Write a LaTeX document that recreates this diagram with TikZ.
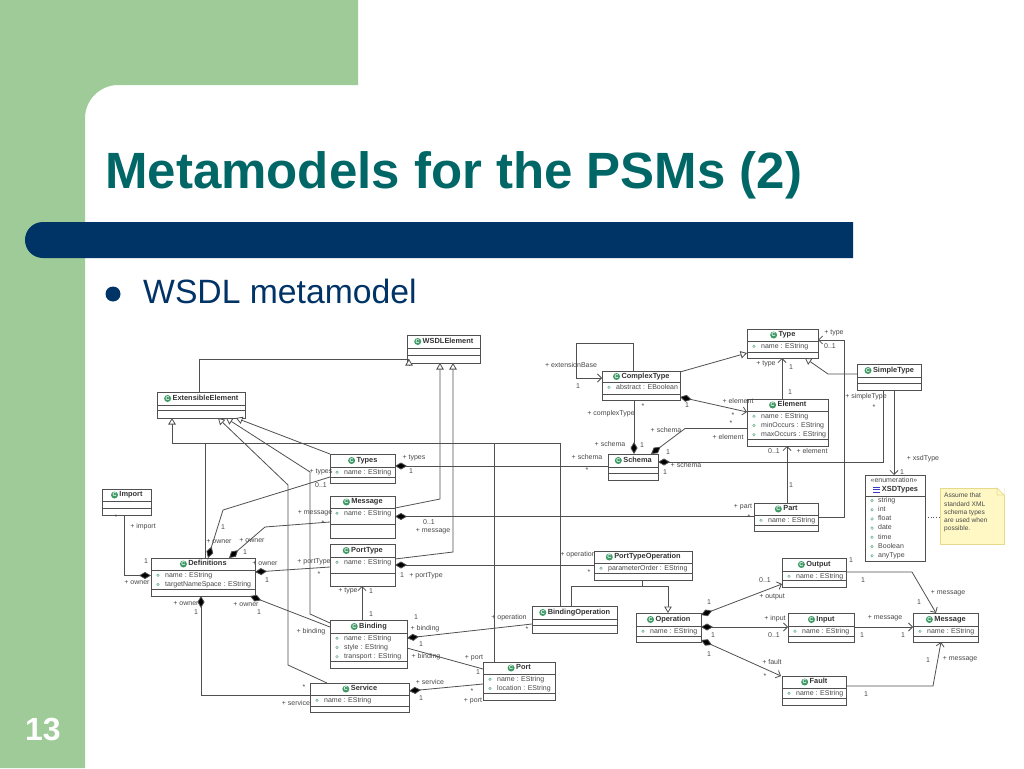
\documentclass[tikz,border=0pt]{standalone}
\usepackage{fontspec}
\setmainfont{Liberation Sans}
\usetikzlibrary{arrows.meta}
\definecolor{bandgreen}{HTML}{9FCB98}
\definecolor{navybar}{HTML}{003366}
\definecolor{titleteal}{HTML}{006666}
\definecolor{umlline}{HTML}{505050}
\definecolor{umltext}{HTML}{484848}
\definecolor{icongreen}{HTML}{3F9A66}
\definecolor{notefill}{HTML}{FFF8C4}
\definecolor{noteline}{HTML}{E6D98C}
\newcounter{lbc}
\tikzset{
  umlbox/.style={draw=umlline,line width=0.9pt,fill=white,inner sep=0pt,outer sep=0pt},
  umlsep/.style={draw=umlline,line width=0.8pt},
  umltitle/.style={font=\fontsize{7.4}{9}\selectfont\bfseries,text=black!80,inner sep=0pt,outer sep=0pt,text height=5.4pt,text depth=1.6pt},
  umlattr/.style={font=\fontsize{7}{9}\selectfont,text=umltext,inner sep=0pt,anchor=west,text height=5.2pt,text depth=1.5pt},
  attrdot/.style={circle,draw=icongreen!80,line width=0.5pt,minimum size=2.6pt,inner sep=0pt},
  classicon/.style={circle,fill=icongreen,text=white,font=\fontsize{5.5}{6}\selectfont\bfseries,minimum size=7pt,inner sep=0pt,outer sep=1.5pt,anchor=east},
  lbl/.style={font=\fontsize{7}{9}\selectfont,text=umltext,inner sep=0pt,text height=5.2pt,text depth=1.5pt},
  conn/.style={draw=umlline,line width=0.8pt},
  gen/.style={conn,-{Triangle[fill=white,length=6.5pt,width=7.5pt]}},
  nav/.style={conn,-{Straight Barb[length=4pt,width=8pt]}},
  comp/.style={conn,{Diamond[length=12pt,width=7pt,fill=black]}-},
  compnav/.style={conn,{Diamond[length=12pt,width=7pt,fill=black]}-{Straight Barb[length=4pt,width=8pt]}},
}
% name, x1, y1, x2, y2, sep1, sep2, title, attributes
\newcommand{\umlclass}[9]{%
  \pgfmathsetmacro{\bw}{#4-#2}\pgfmathsetmacro{\bh}{#5-#3}%
  \pgfmathsetmacro{\bx}{(#2+#4)/2}\pgfmathsetmacro{\by}{(#3+#5)/2}%
  \pgfmathsetmacro{\ty}{(#3+#6)/2}%
  \node[umlbox,minimum width=\bw pt,minimum height=\bh pt] (#1) at (\bx,\by) {};
  \draw[umlsep] (#2,#6) -- (#4,#6) (#2,#7) -- (#4,#7);
  \node[umltitle] (#1-t) at (\bx+4.5,\ty) {#8};
  \node[classicon] (#1-i) at (#1-t.west) {C};
  \foreach \at [count=\ai] in {#9}{%
    \ifx\at\empty\else
      \pgfmathsetmacro{\ay}{#6+5.2+(\ai-1)*9.3}%
      \node[attrdot] (#1-d\ai) at (#2+7,\ay) {};
      \node[umlattr] (#1-a\ai) at (#2+14,\ay) {\at};
    \fi
  }%
}
\newcommand{\lab}[3]{\stepcounter{lbc}\node[lbl] (lab\arabic{lbc}) at (#1,#2) {#3};}
\newcommand{\pW}[2]{(#1.west |- 0,#2)}
\newcommand{\pE}[2]{(#1.east |- 0,#2)}
\newcommand{\pN}[2]{(#2,0 |- #1.north)}
\newcommand{\pB}[2]{(#2,0 |- #1.south)}
\begin{document}
\begin{tikzpicture}[x=1pt,y=-1pt]
\useasboundingbox (0,0) rectangle (1024,768);
\fill[white] (0,0) rectangle (1024,768);
% slide background
\fill[bandgreen] (0,0) -- (358,0) -- (358,85) -- (118,85) .. controls (100,85) and (85,100) .. (85,118) -- (85,768) -- (0,768) -- cycle;
\fill[navybar] (853,222) -- (43,222) .. controls (33,222) and (25,230) .. (25,240) .. controls (25,250) and (33,258) .. (43,258) -- (853,258) -- cycle;
\node[anchor=base west,inner sep=0pt,font=\fontsize{51}{60}\selectfont\bfseries,text=titleteal] (title) at (105,188) {Metamodels for the PSMs (2)};
\node[circle,fill=navybar,minimum size=15pt,inner sep=0pt] (bullet) at (113,294) {};
\node[anchor=base west,inner sep=0pt,font=\fontsize{33.7}{40}\selectfont,text=navybar] (bullettext) at (143,303) {WSDL metamodel};
\node[inner sep=0pt,font=\fontsize{32}{38}\selectfont\bfseries,text=white] (pagenum) at (43,729) {13};

% classes
\umlclass{wsdl}{407}{335}{480}{363}{348}{355}{WSDLElement}{}
\umlclass{ext}{157}{392}{245}{418}{405}{410}{ExtensibleElement}{}
\umlclass{imp}{102}{489}{151}{515}{501}{508}{Import}{}
\umlclass{types}{330}{454}{395}{483}{467}{477}{Types}{name : EString}
\umlclass{msg}{330}{496}{395}{538}{508}{524}{Message}{name : EString}
\umlclass{ptype}{330}{544}{395}{586}{557}{573}{PortType}{name : EString}
\umlclass{defs}{151}{558}{255}{596}{570}{589}{Definitions}{name : EString,targetNameSpace : EString}
\umlclass{bind}{330}{620}{407}{668}{633}{661}{Binding}{name : EString,style : EString,transport : EString}
\umlclass{serv}{310}{683}{409}{712}{695}{706}{Service}{name : EString}
\umlclass{ctype}{602}{371}{680}{400}{382}{394}{ComplexType}{abstract : EBoolean}
\umlclass{schema}{608}{454}{658}{480}{467}{473}{Schema}{}
\umlclass{pto}{594}{551}{692}{580}{563}{573}{PortTypeOperation}{parameterOrder : EString}
\umlclass{bop}{532}{606}{617}{633}{619}{625}{BindingOperation}{}
\umlclass{oper}{636}{613}{701}{642}{626}{636}{Operation}{name : EString}
\umlclass{port}{483}{662}{555}{700}{674}{693}{Port}{name : EString,location : EString}
\umlclass{type}{747}{329}{818}{358}{341}{352}{Type}{name : EString}
\umlclass{stype}{857}{364}{921}{390}{377}{383}{SimpleType}{}
\umlclass{elem}{747}{399}{828}{446}{411}{439}{Element}{name : EString,minOccurs : EString,maxOccurs : EString}
\umlclass{part}{754}{503}{818}{531}{515}{525}{Part}{name : EString}
\umlclass{out}{782}{558}{846}{587}{571}{580}{Output}{name : EString}
\umlclass{inp}{788}{613}{854}{642}{626}{636}{Input}{name : EString}
\umlclass{wmsg}{913}{613}{978}{642}{626}{636}{Message}{name : EString}
\umlclass{fault}{782}{676}{846}{705}{688}{698}{Fault}{name : EString}

% enumeration
\node[umlbox,minimum width=60pt,minimum height=86pt] (xsd) at (895,518) {};
\draw[umlsep] (865,496) -- (925,496);
\node[lbl] (xsd-s) at (894,481) {«enumeration»};
\node[umltitle] (xsd-t) at (900,489.5) {XSDTypes};
\draw[draw=blue!55!gray,line width=0.8pt] (873,487) -- (880,487) (873,489.5) -- (880,489.5) (873,492) -- (880,492);
\foreach \v [count=\vi] in {string,int,float,date,time,Boolean,anyType}{
  \node[attrdot] (xsd-d\vi) at (872,{500.5+(\vi-1)*9.2}) {};
  \node[umlattr] (xsd-a\vi) at (878,{500.5+(\vi-1)*9.2}) {\v};
}
% note
\node[draw=noteline,fill=notefill,line width=0.6pt,minimum width=64pt,minimum height=56pt,inner sep=0pt,outer sep=0pt] (note) at (972,516) {};
\fill[white] (997,487.5) -- (1004.5,487.5) -- (1004.5,495) -- cycle;
\draw[noteline,line width=0.6pt] (997,488) -- (1004,495) -- (997,495) -- cycle;
\foreach \n [count=\ni] in {Assume that,standard XML,schema types,are used when,possible.}{
  \node[lbl,anchor=west,font=\fontsize{6.6}{8}\selectfont] (note-\ni) at (944,{496+(\ni-1)*8.2}) {\n};
}
\draw[conn,dotted] \pE{xsd}{517} -- \pW{note}{517};

% generalisations
\coordinate (wsdltip) at (409,359);
\coordinate (wsdlbase) at (409,365.5);
\draw[conn] \pN{ext}{199} -- (199,359) -- (wsdltip);
\draw[gen] (wsdlbase) -- (wsdltip);
\draw[gen] (types.north west) -- \pB{ext}{236};
\draw[gen] \pW{bind}{623} -- (310,614) -- (310,472) -- \pB{ext}{226};
\draw[gen] \pN{serv}{327} -- (288,665) -- (288,485) -- \pB{ext}{218};
\draw[gen] \pN{bop}{560} -- (560,443) -- (172,443) -- \pB{ext}{172};
\draw[conn] \pN{defs}{205} -- (205,443);
\draw[conn] \pN{port}{494} -- (494,443);
\draw[gen] \pE{msg}{508} -- (440,499) -- \pB{wsdl}{440};
\draw[gen] \pE{ptype}{559} -- (453,552) -- \pB{wsdl}{453};
\draw[gen] \pE{ctype}{372} -- \pW{type}{353};
\draw[gen] \pW{stype}{374} -- (828,374) -- \pB{type}{805};
\draw[conn] \pB{pto}{642} -- (642,586);
\draw[gen] \pN{bop}{571} -- (571,586) -- (668,586) -- \pN{oper}{668};

% compositions
\draw[comp] \pW{defs}{575.5} -- (124,575.5) -- \pB{imp}{124};
\draw[comp] \pN{defs}{208} -- (223,510) -- \pW{types}{477};
\draw[comp] \pN{defs}{229} -- (265,527) -- \pW{msg}{522};
\draw[comp] \pE{defs}{572} -- \pW{ptype}{567};
\draw[comp] \pB{defs}{250} -- \pW{bind}{627};
\draw[comp] \pB{defs}{201} -- (201,695) -- \pW{serv}{695};
\draw[comp] \pE{types}{466} -- \pW{schema}{466};
\draw[comp] \pE{msg}{516.5} -- \pW{part}{516.5};
\draw[comp] \pE{ptype}{565} -- \pW{pto}{565};
\draw[comp] \pE{bind}{638} -- \pW{bop}{624};
\draw[conn] \pE{bind}{648} -- \pW{port}{669};
\draw[comp] \pE{serv}{691} -- \pW{port}{684};
\draw[comp] \pN{schema}{634} -- \pB{ctype}{634};
\draw[comp] \pN{schema}{651} -- (685,428.5) -- \pW{elem}{428.5};
\draw[comp] \pE{schema}{462} -- (883,462) -- \pB{stype}{883};
\draw[compnav] \pE{ctype}{397} -- \pW{elem}{412};

% navigable associations
\draw[nav] \pN{ctype}{633} -- (633,343) -- (576,343) -- (576,378) -- \pW{ctype}{378};
\draw[nav] \pN{elem}{782} -- \pB{type}{782};
\draw[nav] \pN{part}{787} -- \pB{elem}{787};
\draw[nav] \pN{bind}{362} -- \pB{ptype}{362};
\draw[nav] \pE{part}{517} -- (844,517) -- (844,340) -- \pE{type}{340};
\draw[nav] \pB{stype}{894} -- \pN{xsd}{894};
\draw[compnav] \pE{oper}{615} -- \pW{out}{584};
\draw[compnav] \pE{oper}{627} -- \pW{inp}{627};
\draw[compnav] \pE{oper}{640} -- \pN{fault}{781};
\draw[nav] \pE{out}{572} -- (912,572) -- \pN{wmsg}{936};
\draw[nav] \pE{inp}{627} -- \pW{wmsg}{627};
\draw[nav] \pE{fault}{686} -- (933,686) -- \pB{wmsg}{941};

% role names and multiplicities
\lab{321}{472}{+ types}\lab{321}{486}{0..1}\lab{315}{513}{+ message}\lab{323}{524}{*}
\lab{116}{518}{*}\lab{143}{527}{+ import}\lab{223}{528}{1}\lab{414}{458}{+ types}\lab{411}{472}{1}
\lab{219}{542}{+ owner}\lab{252}{541}{+ owner}\lab{245}{553}{1}\lab{146}{562}{1}\lab{137}{583}{+ owner}
\lab{265}{564}{+ owner}\lab{267}{581}{1}\lab{314}{562}{+ portType}\lab{319}{575}{*}\lab{348}{591}{+ type}
\lab{371}{592}{1}\lab{371}{615}{1}\lab{186}{604}{+ owner}\lab{196}{613}{1}\lab{246}{605}{+ owner}\lab{259}{612.5}{1}
\lab{311}{632}{+ binding}\lab{304}{688}{*}\lab{296}{704}{+ service}
\lab{571}{366}{+ extensionBase}\lab{578}{387}{1}\lab{643}{407}{*}\lab{611}{414}{+ complexType}\lab{666}{431}{+ schema}
\lab{610}{445}{+ schema}\lab{642}{446}{1}\lab{668}{453}{1}\lab{587}{458}{+ schema}\lab{587}{471}{*}\lab{686}{466}{+ schema}
\lab{665}{473}{1}\lab{728}{438}{+ element}\lab{738}{402}{+ element}\lab{733}{416}{*}\lab{731}{424}{*}\lab{687}{406}{1}
\lab{429}{523}{0..1}\lab{433}{530.5}{+ message}\lab{402}{576}{1}\lab{426}{576}{+ portType}\lab{578}{555}{+ operation}
\lab{589}{573}{*}\lab{416}{618}{1}\lab{425}{629}{+ binding}\lab{509}{618}{+ operation}\lab{527}{630}{*}\lab{421}{645}{1}
\lab{426}{657}{+ binding}\lab{474}{658}{+ port}\lab{478}{673}{1}\lab{430}{683}{+ service}\lab{421}{699}{1}\lab{472}{692}{*}
\lab{473}{701}{+ port}\lab{709}{603}{1}\lab{713}{636}{1}\lab{709}{655}{1}
\lab{834}{333}{+ type}\lab{830}{347}{0..1}\lab{766}{364}{+ type}\lab{791}{368}{1}\lab{790}{393}{1}\lab{866}{397}{+ simpleType}
\lab{874}{408}{*}\lab{774}{452}{0..1}\lab{812}{452}{+ element}\lab{923}{459}{+ xsdType}\lab{902}{473}{1}\lab{791}{486}{1}
\lab{743}{507}{+ part}\lab{749}{518}{*}
\lab{851}{561}{1}\lab{765}{581}{0..1}\lab{863}{581}{1}\lab{772}{597}{+ output}\lab{948}{593}{+ message}\lab{919}{603}{1}
\lab{775}{619}{+ input}\lab{885}{618}{+ message}\lab{774}{636}{0..1}\lab{862}{636}{1}\lab{903}{636}{1}\lab{772}{663}{+ fault}
\lab{765}{677}{*}\lab{928}{661}{1}\lab{960}{659}{+ message}\lab{866}{695}{1}
\end{tikzpicture}
\end{document}
